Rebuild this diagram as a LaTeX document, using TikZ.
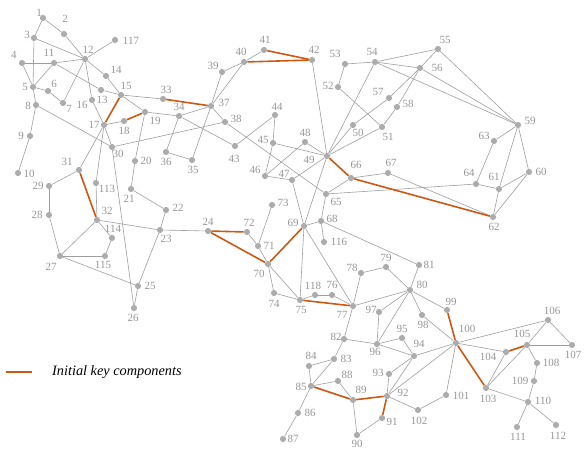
\documentclass[tikz,border=0pt]{standalone}
\usepackage{fontspec}
\setmainfont{Liberation Serif}
\definecolor{nodegray}{RGB}{172,172,172}
\definecolor{edgegray}{RGB}{158,158,158}
\definecolor{labgray}{RGB}{150,150,150}
\definecolor{keyorange}{RGB}{204,88,20}
\tikzset{
  busdot/.style={circle,fill=nodegray,inner sep=0pt,minimum size=6.2pt},
  buslab/.style={inner sep=0pt,text=labgray,font=\fontsize{11}{11}\selectfont},
  edge/.style={draw=edgegray,line width=0.6pt},
  keyedge/.style={draw=keyorange,line width=1.6pt},
}
\newcommand\mybus[5]{\node[busdot] (b#1) at (#2,#3) {}; \node[buslab] (l#1) at (#4,#5) {#1};}
\begin{document}
\begin{tikzpicture}[x=1pt,y=-1pt]
\useasboundingbox (0,0) rectangle (584,455);
\mybus{1}{43}{18}{39}{13}
\mybus{2}{64}{34}{65}{19}
\mybus{3}{34}{38}{27}{35}
\mybus{4}{22}{63}{14}{55}
\mybus{5}{33}{87}{25}{87}
\mybus{6}{48}{91}{54}{84}
\mybus{7}{63}{103}{69}{109}
\mybus{8}{36}{105}{28}{106}
\mybus{9}{30}{136}{21}{136}
\mybus{10}{18}{173}{29}{174}
\mybus{11}{54}{63}{49}{53}
\mybus{12}{85}{59}{88}{50}
\mybus{13}{101}{90}{102}{100}
\mybus{14}{106}{76}{116}{70}
\mybus{15}{121}{95}{126}{86}
\mybus{16}{92}{100}{82}{105}
\mybus{17}{104}{125}{94}{125}
\mybus{18}{124}{121}{124}{131}
\mybus{19}{145}{112}{155}{121}
\mybus{20}{135}{161}{146}{161}
\mybus{21}{131}{189}{129}{199}
\mybus{22}{166}{210}{178}{208}
\mybus{23}{160}{230}{166}{239}
\mybus{24}{208}{231}{208}{222}
\mybus{25}{138}{286}{150}{286}
\mybus{26}{134}{308}{133}{318}
\mybus{27}{60}{256}{51}{267}
\mybus{28}{49}{215}{37}{215}
\mybus{29}{49}{186}{38}{186}
\mybus{30}{112}{147}{118}{154}
\mybus{31}{79}{170}{67}{162}
\mybus{32}{97}{220}{107}{211}
\mybus{33}{163}{99}{166}{90}
\mybus{34}{179}{116}{179}{107}
\mybus{35}{192}{160}{193}{170}
\mybus{36}{166}{152}{166}{162}
\mybus{37}{211}{106}{224}{103}
\mybus{38}{225}{122}{236}{119}
\mybus{39}{222}{72}{213}{66}
\mybus{40}{244}{62}{241}{52}
\mybus{41}{264}{50}{265}{40}
\mybus{42}{312}{60}{314}{50}
\mybus{43}{235}{146}{234}{159}
\mybus{44}{275}{115}{277}{107}
\mybus{45}{273}{143}{263}{140}
\mybus{46}{265}{176}{255}{170}
\mybus{47}{292}{180}{284}{174}
\mybus{48}{305}{142}{305}{133}
\mybus{49}{327}{156}{309}{160}
\mybus{50}{353}{125}{358}{133}
\mybus{51}{382}{127}{388}{137}
\mybus{52}{338}{87}{328}{86}
\mybus{53}{345}{64}{335}{54}
\mybus{54}{375}{62}{372}{52}
\mybus{55}{438}{49}{445}{40}
\mybus{56}{420}{68}{437}{68}
\mybus{57}{389}{98}{378}{92}
\mybus{58}{397}{107}{408}{104}
\mybus{59}{518}{125}{530}{121}
\mybus{60}{529}{172}{541}{172}
\mybus{61}{499}{189}{494}{177}
\mybus{62}{493}{217}{494}{227}
\mybus{63}{494}{141}{484}{136}
\mybus{64}{476}{184}{469}{173}
\mybus{65}{326}{194}{336}{202}
\mybus{66}{351}{178}{356}{165}
\mybus{67}{388}{173}{391}{163}
\mybus{68}{321}{221}{332}{219}
\mybus{69}{304}{226}{293}{223}
\mybus{70}{268}{264}{259}{274}
\mybus{71}{258}{246}{269}{246}
\mybus{72}{247}{232}{249}{223}
\mybus{73}{272}{205}{283}{203}
\mybus{74}{274}{293}{274}{304}
\mybus{75}{300}{300}{301}{310}
\mybus{76}{332}{295}{332}{285}
\mybus{77}{353}{306}{342}{315}
\mybus{78}{361}{273}{352}{268}
\mybus{79}{386}{267}{386}{258}
\mybus{80}{410}{290}{422}{285}
\mybus{81}{419}{265}{429}{265}
\mybus{82}{344}{339}{336}{337}
\mybus{83}{334}{359}{346}{359}
\mybus{84}{309}{366}{311}{356}
\mybus{85}{311}{386}{301}{387}
\mybus{86}{298}{413}{310}{413}
\mybus{87}{283}{439}{293}{439}
\mybus{88}{338}{381}{347}{375}
\mybus{89}{353}{400}{361}{390}
\mybus{90}{357}{435}{357}{444}
\mybus{91}{382}{418}{392}{422}
\mybus{92}{387}{396}{403}{393}
\mybus{93}{389}{374}{378}{373}
\mybus{94}{414}{356}{419}{344}
\mybus{95}{402}{338}{402}{329}
\mybus{96}{377}{344}{375}{352}
\mybus{97}{379}{312}{371}{310}
\mybus{98}{422}{315}{423}{325}
\mybus{99}{447}{310}{451}{302}
\mybus{100}{456}{343}{467}{329}
\mybus{101}{446}{395}{461}{396}
\mybus{102}{418}{410}{419}{421}
\mybus{103}{486}{388}{488}{399}
\mybus{104}{506}{352}{488}{357}
\mybus{105}{527}{345}{522}{334}
\mybus{106}{548}{320}{552}{311}
\mybus{107}{572}{345}{573}{355}
\mybus{108}{537}{363}{551}{363}
\mybus{109}{534}{381}{520}{381}
\mybus{110}{528}{402}{543}{401}
\mybus{111}{517}{427}{518}{437}
\mybus{112}{556}{425}{558}{436}
\mybus{113}{96}{183}{107}{189}
\mybus{114}{112}{238}{113}{229}
\mybus{115}{105}{256}{103}{265}
\mybus{116}{324}{242}{339}{242}
\mybus{117}{115}{40}{131}{41}
\mybus{118}{315}{295}{313}{286}
\foreach \a/\b in {1/2,1/3,4/5,3/5,5/6,6/7,8/9,5/8,9/10,4/11,5/11,11/12,2/12,3/12,7/12,11/13,12/14,13/15,14/15,12/16,16/17,17/18,15/19,19/20,20/21,21/22,22/23,23/24,23/25,25/26,25/27,27/28,28/29,17/30,8/30,26/30,17/31,29/31,23/32,27/32,15/33,19/34,35/36,35/37,34/36,34/37,37/38,37/39,37/40,30/38,39/40,40/41,43/44,34/43,44/45,45/46,46/47,46/48,47/49,42/49,45/49,48/49,49/50,49/51,51/52,52/53,53/54,49/54,54/55,54/56,55/56,56/57,50/57,56/58,51/58,54/59,56/59,55/59,59/60,59/61,60/61,60/62,61/62,59/63,63/64,61/64,38/65,64/65,62/67,65/66,66/67,65/68,47/69,49/69,68/69,70/71,71/72,71/73,70/74,70/75,69/75,74/75,76/77,69/77,77/78,78/79,77/80,79/80,68/81,80/81,77/82,82/83,83/84,83/85,84/85,85/86,86/87,85/88,88/89,89/90,90/91,92/93,92/94,93/94,94/95,80/96,82/96,94/96,80/97,80/98,80/99,92/100,94/100,95/96,96/97,98/100,100/101,92/102,101/102,100/104,103/104,103/105,100/106,105/106,105/107,105/108,106/107,108/109,103/110,109/110,110/111,110/112,17/113,32/113,32/114,27/115,114/115,68/116,12/117,75/118,76/118}
  \draw[edge] (b\a) -- (b\b);
\foreach \a/\b in {15/17,18/19,33/37,40/42,41/42,31/32,24/72,24/70,69/70,49/66,62/66,75/77,99/100,100/103,104/105,85/89,89/92,91/92}
  \draw[keyedge] (b\a) -- (b\b);
\coordinate (k1) at (6,372);
\coordinate (k2) at (32,372);
\draw[keyedge] (k1) -- (k2);
\node[anchor=west,inner sep=0pt,font=\fontsize{14.3}{14.3}\selectfont\itshape] (legend) at (52,372) {Initial key components};
\end{tikzpicture}
\end{document}
